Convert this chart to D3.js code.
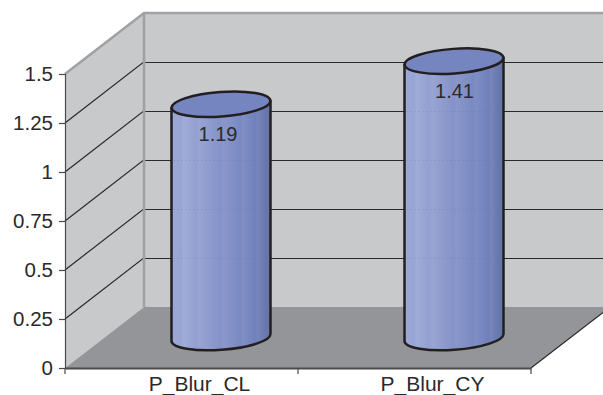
<!DOCTYPE html>
<html>
<head>
<meta charset="utf-8">
<script src="https://d3js.org/d3.v7.min.js"></script>
<style>
    html, body {margin: 0; padding: 0; background: #fff;}
    text {font-family: "Liberation Sans", Arial, sans-serif; fill: #2b2a2b;}
</style>
</head>
<body>
<div id="chart"></div>
<script>
const categories = ["P_Blur_CL", "P_Blur_CY"];
const values = [1.19, 1.41];
const yTicks = [0, 0.25, 0.5, 0.75, 1, 1.25, 1.5];

let width = 603, height = 395;

// front plane of the 3d box
let x0 = 65, x1 = 531, y0 = 368, y1 = 74;
// how far the back wall is pushed from the front plane
let depthX = 79, depthY = -61;

let colors = {
    wall: '#c8c9cb',
    floor: '#949598',
    edge: '#a0a1a5',
    grid: '#2a2a2c',
    axis: '#4a4a4c',
    outline: '#231f20',
    top: '#7585c0'
};

let svg = d3.select("#chart").append("svg")
    .attr("width", width)
    .attr("height", height)
    .style("display", "block");

let x = d3.scaleBand().domain(categories).range([x0, x1]).paddingInner(0);
let y = d3.scaleLinear().domain([0, 1.5]).range([y0, y1]);

let poly = pts => pts.map(p => p.join(",")).join(" ");

// Walls and floor
svg.append("polygon")
    .attr("points", poly([[x0, y(0)], [x0 + depthX, y(0) + depthY], [x0 + depthX, y(1.5) + depthY], [x0, y(1.5)]]))
    .attr("fill", colors.wall);
svg.append("polygon")
    .attr("points", poly([[x0 + depthX, y(0) + depthY], [x1 + depthX, y(0) + depthY], [x1 + depthX, y(1.5) + depthY], [x0 + depthX, y(1.5) + depthY]]))
    .attr("fill", colors.wall);
svg.append("polygon")
    .attr("points", poly([[x0, y(0)], [x1, y(0)], [x1 + depthX, y(0) + depthY], [x0 + depthX, y(0) + depthY]]))
    .attr("fill", colors.floor);

// Gridlines, along side wall and back wall (half pixel keeps the back part crisp)
yTicks.filter(d => d > 0 && d < 1.5).forEach(d => {
    let gy = y(d) + depthY + 0.5;
    svg.append("polyline")
        .attr("points", poly([[x0, y(d)], [x0 + depthX - 1, gy], [x0 + depthX, gy], [x1 + depthX, gy]]))
        .attr("fill", "none")
        .attr("stroke", colors.grid)
        .attr("stroke-width", 1.2);
});

// Light frame of the walls
svg.append("polyline")
    .attr("points", poly([[x0, y(1.5)], [x0 + depthX, y(1.5) + depthY], [x1 + depthX, y(1.5) + depthY]]))
    .attr("fill", "none")
    .attr("stroke", colors.edge)
    .attr("stroke-width", 2.5);
svg.append("line")
    .attr("x1", x0 + depthX).attr("x2", x0 + depthX)
    .attr("y1", y(1.5) + depthY).attr("y2", y(0) + depthY)
    .attr("stroke", colors.edge)
    .attr("stroke-width", 2.5);

// Floor right edge
svg.append("line")
    .attr("x1", x1).attr("y1", y(0))
    .attr("x2", x1 + depthX).attr("y2", y(0) + depthY)
    .attr("stroke", colors.grid)
    .attr("stroke-width", 1.2);

// Banded gradient for the cylinder sides
let bandStops = [
    [0, '#9ca8d6'], [0.1, '#98a4d3'], [0.12, '#a0acd8'], [0.25, '#93a0d0'], [0.28, '#98a4d2'],
    [0.5, '#8592c8'], [0.52, '#8997ca'], [0.7, '#7a89c2'], [0.72, '#7f8ec4'],
    [0.85, '#7080bb'], [0.87, '#7686bd'], [0.95, '#6878ae'], [1, '#64749f']
];
let grad = svg.append("defs").append("linearGradient")
    .attr("id", "cyl-side")
    .attr("x1", "0%").attr("x2", "100%").attr("y1", "0%").attr("y2", "0%");
bandStops.forEach(s => {
    grad.append("stop").attr("offset", s[0]).attr("stop-color", s[1]);
});

// Cylinders
let barWidth = 99;
let ry = 12.3, tilt = -4.2, lift = 3.6;
let barCenter = d => x(d) + x.bandwidth() * 0.5 + depthX / 2;
let baseY = y(0) + depthY / 2;
let topY = d => baseY - (y(0) - y(d));

let bars = svg.selectAll(".bar")
    .data(categories.map((c, i) => ({cat: c, val: values[i]})))
    .enter().append("g")
    .attr("class", "bar");

bars.append("path")
    .attr("d", d => {
        let cx = barCenter(d.cat), r = barWidth / 2;
        let top = topY(d.val);
        return "M" + (cx - r) + "," + (top + lift)
            + "L" + (cx - r) + "," + (baseY + lift)
            + "A" + r + "," + ry + " " + tilt + " 0 0 " + (cx + r) + "," + (baseY - lift)
            + "L" + (cx + r) + "," + (top - lift)
            + "Z";
    })
    .attr("fill", "url(#cyl-side)")
    .attr("stroke", colors.outline)
    .attr("stroke-width", 2.5)
    .attr("stroke-linejoin", "round");

// Faint trace of the gridlines showing through the side
yTicks.filter(d => d > 0 && d < 1.5).forEach(d => {
    bars.filter(b => topY(b.val) + 16 < y(d) + depthY)
        .append("line")
        .attr("x1", b => barCenter(b.cat) - barWidth / 2 + 2)
        .attr("x2", b => barCenter(b.cat) + barWidth / 2 - 2)
        .attr("y1", y(d) + depthY + 0.5)
        .attr("y2", y(d) + depthY + 0.5)
        .attr("stroke", "#5f6a98")
        .attr("stroke-opacity", 0.35)
        .attr("stroke-width", 1)
        .attr("stroke-dasharray", "1 3");
});

bars.append("ellipse")
    .attr("cx", 0).attr("cy", 0)
    .attr("rx", barWidth / 2)
    .attr("ry", ry)
    .attr("transform", d => "translate(" + barCenter(d.cat) + "," + topY(d.val) + ") rotate(" + tilt + ")")
    .attr("fill", colors.top)
    .attr("stroke", colors.outline)
    .attr("stroke-width", 2.5);

// second label sits a little further right on its bar
let labelNudge = [-3, 0.5];
bars.append("text")
    .attr("x", (d, i) => barCenter(d.cat) + labelNudge[i])
    .attr("y", d => topY(d.val) + 37)
    .attr("text-anchor", "middle")
    .attr("font-size", 20)
    .text(d => d.val);

// Axes
let yAxis = d3.axisLeft(y)
    .tickValues(yTicks)
    .tickFormat(d => d)
    .tickSize(6)
    .tickPadding(6);
let yG = svg.append("g")
    .attr("class", "y-axis axis")
    .attr("transform", "translate(" + x0 + ",0)")
    .call(yAxis);
yG.selectAll("text").attr("font-size", 20.5);
yG.selectAll("path, line").attr("stroke", colors.axis).attr("stroke-width", 1.2);

// categories sit between the ticks, nudged right as in the original
let xAxis = d3.axisBottom(x)
    .tickSize(0)
    .tickPadding(8);
let xG = svg.append("g")
    .attr("class", "x-axis axis")
    .attr("transform", "translate(0," + y0 + ")")
    .call(xAxis);
xG.selectAll("text").attr("font-size", 21).attr("dy", "0.71em").attr("dx", 18);
xG.select(".domain").attr("stroke", colors.axis).attr("stroke-width", 2);

[x0, x(categories[1]), x1].forEach(t => {
    xG.append("line")
        .attr("x1", t).attr("x2", t)
        .attr("y1", 0).attr("y2", 6)
        .attr("stroke", colors.axis)
        .attr("stroke-width", 1.2);
});
</script>
</body>
</html>
